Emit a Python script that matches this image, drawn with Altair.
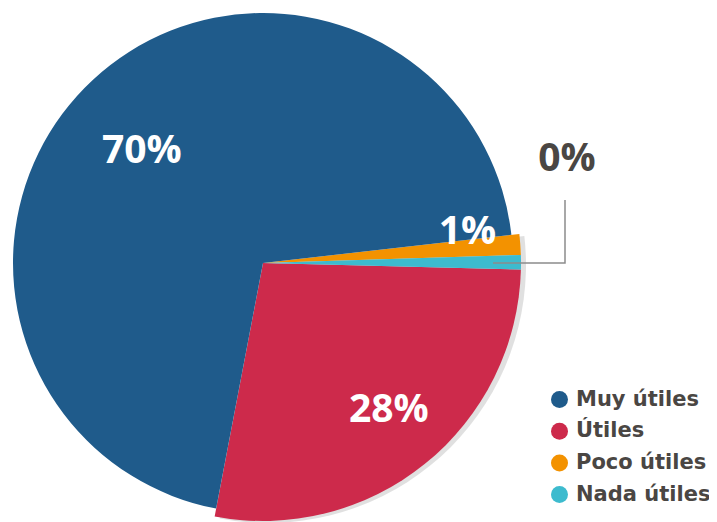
import math
import altair as alt
import pandas as pd

categories = ["Muy útiles", "Útiles", "Poco útiles", "Nada útiles"]
values = [70.2, 27.6, 1.3, 0.9]
labels = ["70%", "28%", "1%", "0%"]
colors = ["#1F5B8B", "#CD2A4B", "#F39200", "#3DBBCE"]
draw_order = [0, 3, 1, 2]  # clockwise sequence of slices

df = pd.DataFrame({"cat": categories, "v": values, "lab": labels, "o": draw_order})

START = math.radians(190.8)
CX, CY = 255, 255
W, H = 701, 514
TXT = "#4A4643"
FONT = "Open Sans"

base = alt.Chart(df).transform_joinaggregate(
    total="sum(v)"
).transform_window(
    cum="sum(v)", sort=[alt.SortField("o")], frame=[None, 0]
).transform_calculate(
    t0=f"{START} + (datum.cum - datum.v) / datum.total * 2 * PI",
    t1=f"{START} + datum.cum / datum.total * 2 * PI",
).transform_calculate(
    tm="(datum.t0 + datum.t1) / 2"
)

color = alt.Color(
    "cat:N",
    scale=alt.Scale(domain=categories, range=colors),
    legend=alt.Legend(
        orient="none", legendX=541, legendY=381, title=None,
        symbolType="circle", symbolSize=289, symbolStrokeWidth=0, symbolOpacity=1,
        labelFontSize=21, labelFont="DejaVu Sans", labelFontWeight="bold", labelColor=TXT,
        labelOffset=6, rowPadding=9.7, padding=0,
    ),
)

shadow = base.transform_filter("datum.o > 0").mark_arc(
    radius=258, color="#000000", opacity=0.12
).encode(
    theta=alt.Theta("t0:Q", scale=None), theta2="t1:Q",
    x=alt.value(CX + 5), y=alt.value(CY + 2),
)

arc_big = base.transform_filter("datum.o > 0").mark_arc(radius=258).encode(
    theta=alt.Theta("t0:Q", scale=None), theta2="t1:Q",
    color=color, x=alt.value(CX), y=alt.value(CY),
)
arc_main = base.transform_filter("datum.o == 0").mark_arc(radius=250).encode(
    theta=alt.Theta("t0:Q", scale=None), theta2="t1:Q",
    color=color, x=alt.value(CX), y=alt.value(CY),
)

label_style = {
    "Muy útiles": dict(radius=165, dx=-9, dy=9),
    "Útiles": dict(radius=194, dx=4, dy=-4),
    "Poco útiles": dict(radius=206, dx=-1, dy=-16),
}
text_layers = []
for cat, st in label_style.items():
    text_layers.append(
        base.transform_filter(alt.datum.cat == cat).mark_text(
            font=FONT, fontWeight="bold", fontSize=39, color="white",
            align="center", baseline="middle", **st
        ).encode(
            theta=alt.Theta("tm:Q", scale=None), text="lab:N",
            x=alt.value(CX), y=alt.value(CY),
        )
    )

leader = pd.DataFrame({"px": [485, 557, 557], "py": [255, 255, 192], "k": [0, 1, 2]})
leader_line = alt.Chart(leader).mark_line(color="#8C8C8C", strokeWidth=1.5).encode(
    x=alt.X("px:Q", scale=None), y=alt.Y("py:Q", scale=None), order="k:Q"
)
zero_label = base.transform_filter(alt.datum.cat == "Nada útiles").mark_text(
    font=FONT, fontWeight="bold", fontSize=39, color=TXT, align="center", baseline="middle"
).encode(text="lab:N", x=alt.value(559), y=alt.value(151))

chart = alt.layer(
    shadow, arc_big, arc_main, *text_layers, leader_line, zero_label
).properties(
    width=W, height=H, autosize=alt.AutoSizeParams(type="none"), padding=0
).configure_view(stroke=None)

chart.save("out.html", embed_options={"renderer": "svg", "actions": False})
